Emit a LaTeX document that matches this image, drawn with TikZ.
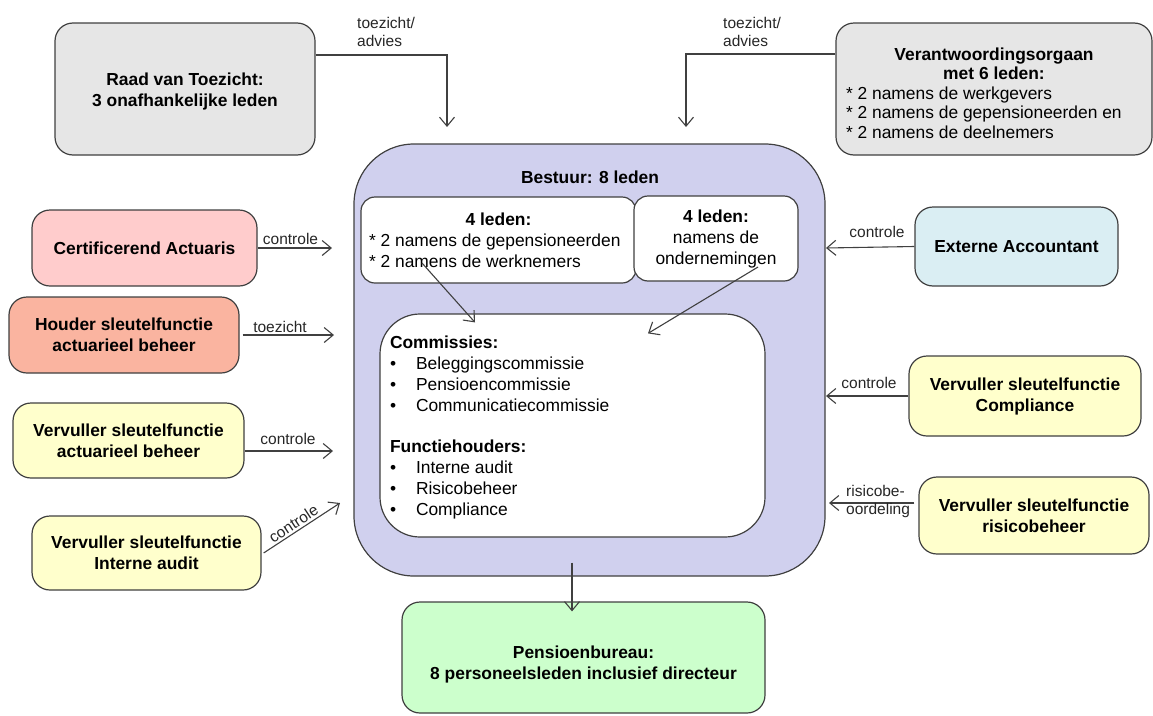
\documentclass[tikz,border=0pt]{standalone}
\usepackage{fontspec}
\setmainfont{Liberation Sans}
\usetikzlibrary{arrows.meta,calc}
\definecolor{strk}{HTML}{404040}
\definecolor{grayfill}{HTML}{E6E6E6}
\definecolor{lavfill}{HTML}{D0D0EE}
\definecolor{pinkfill}{HTML}{FFCCCC}
\definecolor{salmfill}{HTML}{FAB4A0}
\definecolor{yelfill}{HTML}{FFFFCC}
\definecolor{bluefill}{HTML}{DAEEF3}
\definecolor{greenfill}{HTML}{CCFFCC}
\begin{document}
\begin{tikzpicture}[x=1pt,y=-1pt,
  box/.style={draw=strk, line width=1.2pt, rounded corners=18pt, inner sep=0pt, align=center,
    font=\fontsize{17.4}{21}\selectfont\bfseries},
  inbox/.style={box, fill=white, rounded corners=14pt},
  lbl/.style={font=\fontsize{15.5}{18}\selectfont, text=black!85, inner sep=0pt, align=left},
  arr/.style={draw=strk, line width=1.1pt, -{Straight Barb[length=9pt,width=15pt,line width=1.1pt]}}]
\useasboundingbox (0,0) rectangle (1153,715);

% top boxes
\node[box, fill=grayfill, minimum width=260pt, minimum height=132pt] (raad) at (185,89)
  {\begin{minipage}{240pt}\centering\vspace*{5pt}Raad van Toezicht:\\3 onafhankelijke leden\end{minipage}};
\node[box, fill=grayfill, minimum width=316pt, minimum height=132pt] (verant) at (994,89)
  {\begin{minipage}{296pt}\fontsize{17.4}{19.5}\selectfont\vspace*{8pt}
   {\centering\bfseries Verantwoordingsorgaan\\ met 6 leden:\par}
   \raggedright\mdseries
   * 2 namens de werkgevers\par
   * 2 namens de gepensioneerden en\par
   * 2 namens de deelnemers\end{minipage}};

% Bestuur
\node[box, fill=lavfill, rounded corners=60pt, minimum width=471pt, minimum height=432pt] (best) at (589.5,360) {};
\node[font=\fontsize{17.4}{21}\selectfont\bfseries, inner sep=0pt] (besttitle) at (590,177) {Bestuur: 8 leden};
\node[inbox, minimum width=275pt, minimum height=86pt] (ledenA) at (498.5,240)
  {\begin{minipage}{259pt}\fontsize{17.4}{21}\selectfont
   {\centering\bfseries 4 leden:\par}
   \raggedright\mdseries
   * 2 namens de gepensioneerden\par
   * 2 namens de werknemers\end{minipage}};
\node[inbox, minimum width=164pt, minimum height=85pt] (ledenB) at (716,238.5)
  {4 leden:\\\mdseries namens de\\\mdseries ondernemingen};
\node[inbox, rounded corners=40pt, minimum width=385pt, minimum height=223pt] (comm) at (572.5,425.5)
  {\begin{minipage}{365pt}\fontsize{17.4}{20.8}\selectfont\raggedright\vspace*{4pt}
   {\bfseries Commissies:}\par\mdseries
   \makebox[26pt][l]{\textbullet}Beleggingscommissie\par
   \makebox[26pt][l]{\textbullet}Pensioencommissie\par
   \makebox[26pt][l]{\textbullet}Communicatiecommissie\par
   \vspace{20.8pt}
   {\bfseries Functiehouders:}\par
   \makebox[26pt][l]{\textbullet}Interne audit\par
   \makebox[26pt][l]{\textbullet}Risicobeheer\par
   \makebox[26pt][l]{\textbullet}Compliance\end{minipage}};

% bottom
\node[box, fill=greenfill, minimum width=363pt, minimum height=111pt] (pens) at (583.5,657.5)
  {\begin{minipage}{343pt}\centering\vspace*{13pt}Pensioenbureau:\\8 personeelsleden inclusief directeur\end{minipage}};

% left boxes
\node[box, fill=pinkfill, minimum width=225pt, minimum height=76pt] (cert) at (144.5,248) {Certificerend Actuaris};
\node[box, fill=salmfill, minimum width=230pt, minimum height=76pt] (houder) at (124,335) {Houder sleutelfunctie\\actuarieel beheer};
\node[box, fill=yelfill, minimum width=231pt, minimum height=75pt] (vaa) at (128.5,440.5) {Vervuller sleutelfunctie\\actuarieel beheer};
\node[box, fill=yelfill, minimum width=229pt, minimum height=74pt] (via) at (146.5,553) {Vervuller sleutelfunctie\\Interne audit};

% right boxes
\node[box, fill=bluefill, minimum width=203pt, minimum height=79pt] (ext) at (1016.5,246.5) {Externe Accountant};
\node[box, fill=yelfill, minimum width=232pt, minimum height=80pt] (comp) at (1025,396) {Vervuller sleutelfunctie\\Compliance};
\node[box, fill=yelfill, minimum width=230pt, minimum height=77pt] (risico) at (1034,515.5) {Vervuller sleutelfunctie\\risicobeheer};

% free arrow ends
\coordinate (tRaad) at (447,127);
\coordinate (tVer) at (686,127);
\coordinate (tCert) at (332,248);
\coordinate (tHoud) at (334,335);
\coordinate (tVaa) at (333,451);
\coordinate (tVia) at (340,503);
\coordinate (tExt) at (826,248);
\coordinate (tComp) at (826,396);
\coordinate (tRis) at (829,503);

% connectors
\draw[arr] ([yshift=34pt]raad.east) -| (tRaad);
\draw[arr] ([yshift=35pt]verant.west) -| (tVer);
\draw[arr] (cert.east) -- (tCert);
\draw[arr] ([xshift=3pt]houder.east) -- (tHoud);
\draw[arr] ([yshift=-10.5pt]vaa.east) -- (tVaa);
\draw[arr] ([xshift=2pt]via.east) -- node[lbl, sloped, above=2pt, pos=0.45] (lVia) {controle} (tVia);
\draw[arr] (ext.west) -- (tExt);
\draw[arr] (comp.west) -- (tComp);
\draw[arr] ([xshift=-4pt,yshift=12.5pt]risico.west) -- (tRis);
\draw[arr] ([xshift=-76.5pt,yshift=-23pt]ledenA.center) -- ([xshift=-97.5pt,yshift=-9pt]comm.north);
\draw[arr] ([xshift=42pt,yshift=-28.5pt]ledenB.center) -- ([xshift=75.5pt,yshift=-20pt]comm.north);
\draw[arr] ([xshift=-17.5pt,yshift=14pt]best.south) -- ([xshift=-11.5pt,yshift=-10pt]pens.north);

% labels
\node[lbl, anchor=west] (lRaad) at (357,32) {toezicht/\\advies};
\node[lbl, anchor=west] (lVer) at (723,32) {toezicht/\\advies};
\node[lbl] (lCert) at (290.5,239) {controle};
\node[lbl] (lHoud) at (280,327) {toezicht};
\node[lbl] (lVaa) at (288,439) {controle};
\node[lbl] (lExt) at (877,232) {controle};
\node[lbl] (lComp) at (869,383) {controle};
\node[lbl, anchor=west] (lRis) at (846,501) {risicobe-\\oordeling};
\end{tikzpicture}
\end{document}
